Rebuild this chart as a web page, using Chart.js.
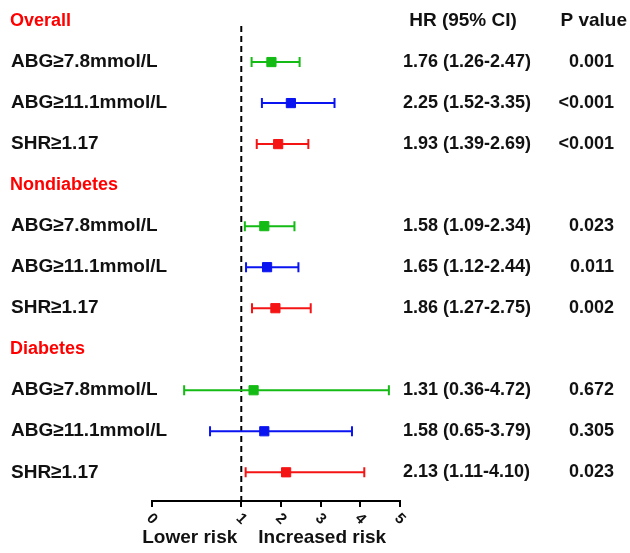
<!DOCTYPE html>
<html>
<head>
<meta charset="utf-8">
<script src="https://cdn.jsdelivr.net/npm/chart.js@4/dist/chart.umd.min.js"></script>
<style>
  html, body { margin: 0; padding: 0; background: #fff; }
  #wrap { width: 630px; height: 553px; position: relative; }
</style>
</head>
<body>
<div id="wrap"><canvas id="grafico"></canvas></div>
<script>
// Datos del forest plot
const grupos = ['Overall', 'Nondiabetes', 'Diabetes'];
const medidas = ['ABG≥7.8mmol/L', 'ABG≥11.1mmol/L', 'SHR≥1.17'];
const hr = [1.76, 2.25, 1.93, 1.58, 1.65, 1.86, 1.31, 1.58, 2.13];
const inferior = [1.26, 1.52, 1.39, 1.09, 1.12, 1.27, 0.36, 0.65, 1.11];
const superior = [2.47, 3.35, 2.69, 2.34, 2.44, 2.75, 4.72, 3.79, 4.10];
const valoresP = ['0.001', '<0.001', '<0.001', '0.023', '0.011', '0.002', '0.672', '0.305', '0.023'];
const colores = ['#14bb14', '#0a14f0', '#f51414'];

const FUENTE = '"Liberation Sans", Arial, sans-serif';

// Eje X partido: 0-1 ocupa una fraccion fija, 1-5 el resto
class EscalaPartida extends Chart.LinearScale {
    static id = 'partida';
    static defaults = Chart.LinearScale.defaults;

    toDecimal(v) {
        const k = 0.36;
        return v <= 1 ? v * k : k + (v - 1) / (this.max - 1) * (1 - k);
    }

    getPixelForValue(value) {
        return this.getPixelForDecimal(this.toDecimal(value));
    }

    getValueForPixel(pixel) {
        const k = 0.36;
        const d = this.getDecimalForPixel(pixel);
        return d <= k ? d / k : 1 + (d - k) / (1 - k) * (this.max - 1);
    }
}
Chart.register(EscalaPartida);

// fila de cada estimacion: encabezado en g*4, medidas despues
const filaDe = i => Math.floor(i / 3) * 4 + 1 + (i % 3);

const datasets = [];

// cuadrados (primero = se dibujan encima)
medidas.forEach((m, j) => {
    const puntos = [];
    hr.forEach((v, i) => { if (i % 3 === j) puntos.push({ x: v, y: filaDe(i) }); });
    datasets.push({
        data: puntos,
        showLine: false,
        pointStyle: 'rect',
        pointRadius: 6.5,
        pointBackgroundColor: colores[j],
        pointBorderColor: colores[j],
        pointBorderWidth: 1
    });
});

// intervalos de confianza con sus topes
hr.forEach((v, i) => {
    const c = colores[i % 3];
    datasets.push({
        data: [{ x: inferior[i], y: filaDe(i) }, { x: superior[i], y: filaDe(i) }],
        showLine: true,
        borderColor: c,
        borderWidth: 2,
        pointStyle: 'line',
        pointRotation: 90,
        pointRadius: 5,
        pointBorderColor: c,
        pointBorderWidth: 2
    });
});

// linea de referencia HR = 1
datasets.push({
    data: [{ x: 1, y: 0.12 }, { x: 1, y: 11.7 }],
    showLine: true,
    borderColor: '#000',
    borderWidth: 2,
    borderDash: [6, 4],
    pointRadius: 0
});

const textos = {
    id: 'textos',
    afterDraw(chart) {
        const ctx = chart.ctx;
        const x = chart.scales.x;
        const y = chart.scales.y;
        ctx.save();
        ctx.textBaseline = 'middle';

        // encabezados de grupo y etiquetas
        grupos.forEach((g, gi) => {
            ctx.font = 'bold 18px ' + FUENTE;
            ctx.fillStyle = '#ff0000';
            ctx.textAlign = 'left';
            ctx.fillText(g, 10, y.getPixelForValue(gi * 4));
        });
        hr.forEach((v, i) => {
            const py = y.getPixelForValue(filaDe(i));
            ctx.fillStyle = '#111';
            ctx.font = 'bold 19px ' + FUENTE;
            ctx.textAlign = 'left';
            ctx.fillText(medidas[i % 3], 11, py);
            ctx.font = 'bold 18px ' + FUENTE;
            ctx.fillText(`${v.toFixed(2)} (${inferior[i].toFixed(2)}-${superior[i].toFixed(2)})`, 403, py);
            ctx.textAlign = 'right';
            ctx.fillText(valoresP[i], 614, py);
        });

        // cabeceras de columnas
        ctx.font = 'bold 19px ' + FUENTE;
        ctx.fillStyle = '#111';
        ctx.textAlign = 'center';
        ctx.fillText('HR (95% CI)', 463, y.getPixelForValue(0));
        ctx.textAlign = 'right';
        ctx.fillText('P value', 627, y.getPixelForValue(0));

        // etiquetas de ticks giradas
        ctx.font = 'bold 15px ' + FUENTE;
        ctx.textAlign = 'center';
        x.ticks.forEach(t => {
            ctx.save();
            ctx.translate(x.getPixelForValue(t.value), x.bottom + 12);
            ctx.rotate(Math.PI / 4);
            ctx.fillText(String(t.value), 0, 0);
            ctx.restore();
        });

        // titulo del eje
        const p1 = x.getPixelForValue(1);
        ctx.font = 'bold 19px ' + FUENTE;
        ctx.textAlign = 'right';
        ctx.fillText('Lower risk', p1 - 4, 538);
        ctx.textAlign = 'left';
        ctx.fillText('Increased risk', p1 + 17, 538);
        ctx.restore();
    }
};

new Chart(document.getElementById('grafico'), {
    type: 'scatter',
    data: { datasets },
    options: {
        responsive: true,
        maintainAspectRatio: false,
        animation: false,
        events: [],
        layout: { padding: { left: 152, right: 230, top: 0, bottom: 46 } },
        plugins: { legend: { display: false }, tooltip: { enabled: false } },
        scales: {
            x: {
                type: 'partida',
                min: 0,
                max: 5,
                ticks: { display: false, stepSize: 1 },
                grid: { drawOnChartArea: false, drawTicks: true, tickLength: 6, color: '#000', lineWidth: 2 },
                border: { display: true, color: '#000', width: 2 }
            },
            y: {
                type: 'linear',
                reverse: true,
                min: -0.33,
                max: 11.7,
                display: false
            }
        }
    },
    plugins: [textos]
});
</script>
</body>
</html>
